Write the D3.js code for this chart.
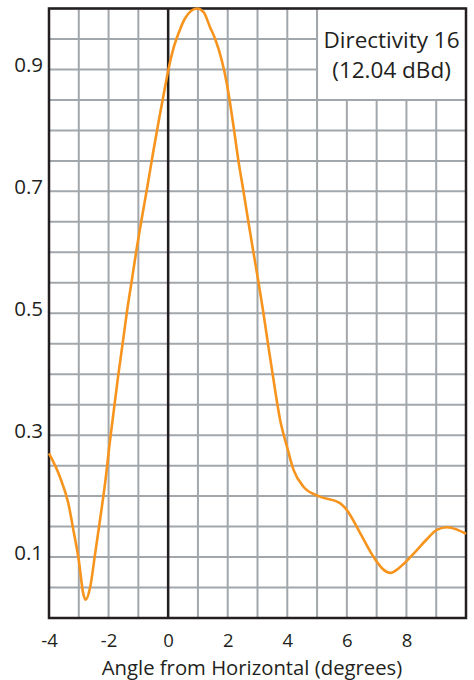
<!DOCTYPE html>
<html>
<head>
<meta charset="utf-8">
<script src="https://cdn.jsdelivr.net/npm/d3@7"></script>
<style>
  html, body { margin: 0; padding: 0; background: #fff; }
  svg { display: block; }
  text { font-family: "Open Sans", "Noto Sans", sans-serif; fill: #231f20; }
</style>
</head>
<body>
<svg id="chart" width="474" height="680"></svg>
<script>
// ---- Data ----
const angles = [-4, -3.63, -3.35, -3.18, -3.0, -2.85, -2.77, -2.62, -2.45, -2.29, -2.12, -1.95,
  -1.67, -1.5, -1.39, -1.22, -1.05, -0.88, -0.7, -0.5, -0.3, -0.1, 0, 0.18, 0.37, 0.57, 0.97,
  1.19, 1.41, 1.58, 1.8, 1.97, 2.2, 2.36, 2.53, 2.7, 2.87, 3.04, 3.2, 3.37, 3.54, 3.76,
  3.99, 4.21, 4.55, 5.05, 5.78, 6.0, 6.45, 6.9, 7.24, 7.46, 7.8, 8.25, 8.7, 9.03, 9.37, 9.7, 10];
const gains = [0.27, 0.231, 0.188, 0.144, 0.095, 0.04, 0.03, 0.05, 0.106, 0.16, 0.22, 0.292,
  0.40, 0.46, 0.50, 0.554, 0.608, 0.657, 0.707, 0.765, 0.82, 0.872, 0.898, 0.935, 0.962, 0.984, 1.0,
  0.994, 0.969, 0.95, 0.915, 0.877, 0.805, 0.75, 0.70, 0.648, 0.598, 0.549, 0.50, 0.444, 0.39, 0.325,
  0.281, 0.243, 0.215, 0.20, 0.188, 0.177, 0.139, 0.10, 0.079, 0.074, 0.084, 0.106, 0.13, 0.145, 0.149, 0.145, 0.138];
const xTickValues = [-4, -2, 0, 2, 4, 6, 8];
const yTickValues = [0.1, 0.3, 0.5, 0.7, 0.9];
const xGridValues = d3.range(-4, 10.001, 1);
const yGridValues = d3.range(0, 1.0001, 0.05);
const legendLines = ["Directivity 16", "(12.04 dBd)"];
const xTitle = "Angle from Horizontal (degrees)";

// ---- Layout ----
const svg = d3.select("#chart");
const x = d3.scaleLinear().domain([-4, 10]).range([49, 466]);
const y = d3.scaleLinear().domain([0, 1]).range([618, 8.5]);

const gridColor = "#a2a7ab";
const frameColor = "#231f20";

// grid
const grid = svg.append("g");
grid.selectAll("line.v").data(xGridValues).join("line")
  .attr("x1", d => x(d)).attr("x2", d => x(d))
  .attr("y1", y(1)).attr("y2", y(0))
  .attr("stroke", gridColor).attr("stroke-width", 2);
grid.selectAll("line.h").data(yGridValues).join("line")
  .attr("x1", x(-4)).attr("x2", x(10))
  .attr("y1", d => y(d)).attr("y2", d => y(d))
  .attr("stroke", gridColor).attr("stroke-width", 2);

// legend box (white, covers grid)
svg.append("rect")
  .attr("x", x(5)).attr("y", y(1))
  .attr("width", x(10) - x(5)).attr("height", y(0.85) - y(1))
  .attr("fill", "#fff");
svg.append("line")
  .attr("x1", x(5)).attr("x2", x(5)).attr("y1", y(1)).attr("y2", y(0.85))
  .attr("stroke", gridColor).attr("stroke-width", 2);
svg.append("line")
  .attr("x1", x(5)).attr("x2", x(10)).attr("y1", y(0.85)).attr("y2", y(0.85))
  .attr("stroke", gridColor).attr("stroke-width", 2);

const lx = (x(5) + x(10)) / 2;
svg.append("g").selectAll("text").data(legendLines).join("text")
  .attr("x", lx).attr("y", (d, i) => 48 + i * 30)
  .attr("text-anchor", "middle").attr("font-size", 22.5)
  .text(d => d);

// zero line
svg.append("line")
  .attr("x1", x(0)).attr("x2", x(0)).attr("y1", y(1)).attr("y2", y(0))
  .attr("stroke", frameColor).attr("stroke-width", 2.5);

// frame
svg.append("rect")
  .attr("x", x(-4)).attr("y", y(1))
  .attr("width", x(10) - x(-4)).attr("height", y(0) - y(1))
  .attr("fill", "none").attr("stroke", frameColor).attr("stroke-width", 2.5);

// curve
const pts = angles.map((a, i) => [a, gains[i]]);
const line = d3.line().x(d => x(d[0])).y(d => y(d[1])).curve(d3.curveMonotoneX);
svg.append("path").datum(pts)
  .attr("d", line)
  .attr("fill", "none").attr("stroke", "#f7941d").attr("stroke-width", 2.6)
  .attr("stroke-linejoin", "round");

// axes (labels only)
const xAxis = d3.axisBottom(x).tickValues(xTickValues).tickSize(0).tickPadding(0)
  .tickFormat(d => d < 0 ? "-" + Math.abs(d) : String(d));
const gx = svg.append("g").attr("transform", `translate(0,${y(0)})`).call(xAxis);
gx.select(".domain").remove();
gx.selectAll("text").attr("y", 29).attr("dy", null).attr("font-size", 18.5)
  .attr("font-family", null).style("fill", frameColor);

const yAxis = d3.axisLeft(y).tickValues(yTickValues).tickSize(0).tickPadding(0)
  .tickFormat(d3.format(".1f"));
const gy = svg.append("g").attr("transform", `translate(${x(-4) - 6},0)`).call(yAxis);
gy.select(".domain").remove();
gy.selectAll("text").attr("dy", "0.1em").attr("x", 0).attr("font-size", 20.5)
  .attr("font-family", null).style("fill", frameColor);

// axis title
svg.append("text")
  .attr("x", 252).attr("y", 675)
  .attr("text-anchor", "middle").attr("font-size", 20.3)
  .text(xTitle);
</script>
</body>
</html>
